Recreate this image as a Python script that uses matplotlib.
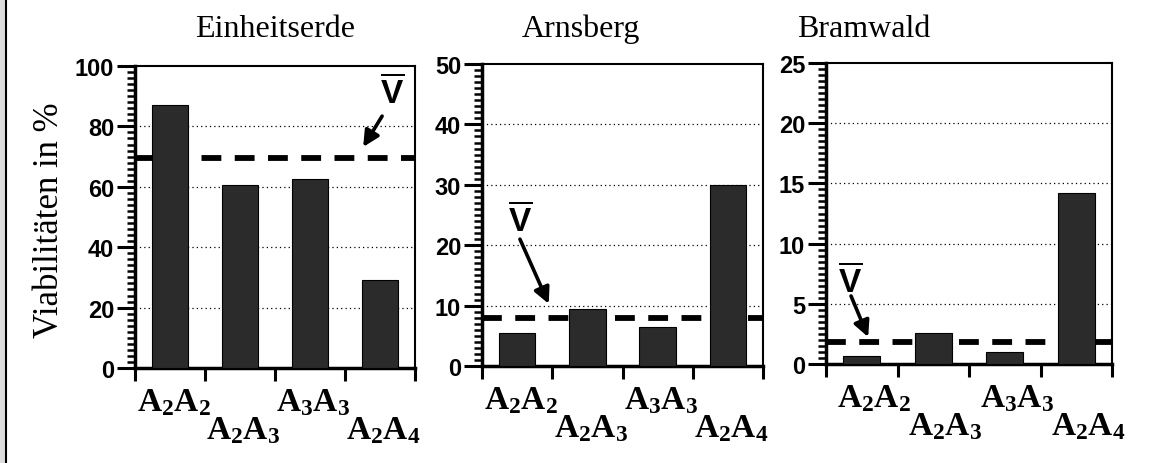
import matplotlib
matplotlib.use("Agg")
import matplotlib.pyplot as plt
from matplotlib.ticker import MultipleLocator, FixedLocator, NullFormatter
from matplotlib.transforms import blended_transform_factory
from matplotlib.patches import Rectangle
from matplotlib.lines import Line2D

plt.rcParams['mathtext.fontset'] = 'custom'
plt.rcParams['mathtext.rm'] = 'Liberation Serif:bold'
plt.rcParams['mathtext.bf'] = 'Liberation Sans:bold'

# data
genotypes = [r'$\mathrm{A_2A_2}$', r'$\mathrm{A_2A_3}$', r'$\mathrm{A_3A_3}$', r'$\mathrm{A_2A_4}$']
sites = ['Einheitserde', 'Arnsberg', 'Bramwald']
einheitserde = [87, 60.5, 62.6, 29.3]
arnsberg = [5.5, 9.4, 6.5, 30]
bramwald = [0.7, 2.55, 0.97, 14.2]
mean_v = [69.5, 8.0, 1.86]
ymax = [100, 50, 25]
major_step = [20, 10, 5]
minor_step = [2, 1, 0.5]

values = [einheitserde, arnsberg, bramwald]

# layout in figure pixels (left, right, top, bottom)
W, H = 1155, 464
BOXES = [(135, 415, 67, 369), (482, 763, 65, 367), (826, 1112, 64, 365)]
TITLE_X = [275, 581, 864]
LABEL_SHIFT = [0.05, 0.05, 0.17]
# V-bar annotations: text pos, arrow start, arrow end (data coords)
VBAR = [((3.17, 91.4), (3.03, 83.4), (2.76, 73.2)),
        ((0.04, 24.3), (0.04, 21.0), (0.45, 10.3)),
        ((-0.16, 6.9), (-0.15, 5.65), (0.09, 2.24))]

fig = plt.figure(figsize=(W / 100, H / 100), dpi=100)
fig.patches.append(Rectangle((0, 0), 5.5 / W, 1, transform=fig.transFigure,
                             facecolor='#dddddd', edgecolor='none'))
fig.lines.append(Line2D([6 / W, 6 / W], [0, 1], transform=fig.transFigure,
                        color='k', lw=1.5))

x = list(range(len(genotypes)))
for i in range(3):
    l, r, t, b = BOXES[i]
    ax = fig.add_axes([l / W, (H - b) / H, (r - l) / W, (b - t) / H])
    ax.bar(x, values[i], width=0.52, color='#2b2b2b', edgecolor='k',
           linewidth=0.8, zorder=3)
    ax.axhline(mean_v[i], color='k', lw=4.2, dashes=(3.4, 2.3),
               dash_capstyle='butt', zorder=2)

    ax.set_xlim(-0.5, 3.5)
    ax.set_ylim(0, ymax[i])
    ax.yaxis.set_major_locator(MultipleLocator(major_step[i]))
    ax.yaxis.set_minor_locator(MultipleLocator(minor_step[i]))
    ax.xaxis.set_major_locator(FixedLocator([-0.5, 0.5, 1.5, 2.5, 3.5]))
    ax.xaxis.set_major_formatter(NullFormatter())
    ax.tick_params(axis='y', which='major', direction='out', length=13,
                   width=2.2, pad=2)
    ax.tick_params(axis='y', which='minor', direction='out', length=6,
                   width=1.8)
    ax.tick_params(axis='x', which='major', direction='out', length=9,
                   width=2.2)
    for lab in ax.get_yticklabels():
        lab.set_fontfamily('Liberation Sans')
        lab.set_fontweight('bold')
        lab.set_fontsize(17)

    for g in range(1, int(ymax[i] / major_step[i])):
        ax.axhline(g * major_step[i], color='k', lw=0.9, ls=(0, (1, 2.5)),
                   zorder=1)

    ax.spines['left'].set_linewidth(2.5)
    ax.spines['bottom'].set_linewidth(2.5)
    ax.spines['top'].set_linewidth(1.5)
    ax.spines['right'].set_linewidth(1.5)

    trans = blended_transform_factory(ax.transData, ax.transAxes)
    for k, lab in enumerate(genotypes):
        yrow = -0.055 if k % 2 == 0 else -0.148
        ax.text(k + LABEL_SHIFT[i], yrow, lab, transform=trans, ha='center',
                va='top', fontsize=24, clip_on=False)

    txt, start, end = VBAR[i]
    ax.text(txt[0], txt[1], r'$\overline{\mathbf{V}}$', ha='center',
            va='center', fontsize=24, zorder=5)
    ax.annotate('', xy=end, xytext=start,
                arrowprops=dict(arrowstyle='-|>', color='k', lw=2.6,
                                mutation_scale=24, shrinkA=0, shrinkB=0),
                zorder=5)

    fig.text(TITLE_X[i] / W, (H - 37) / H, sites[i], ha='center',
             va='baseline', fontsize=23, family='Liberation Serif')

fig.text(50 / W, (H - 220) / H, 'Viabilitäten in %', rotation=90,
         ha='center', va='center', fontsize=25, family='Liberation Serif')

fig.savefig('out.png', dpi=100)
